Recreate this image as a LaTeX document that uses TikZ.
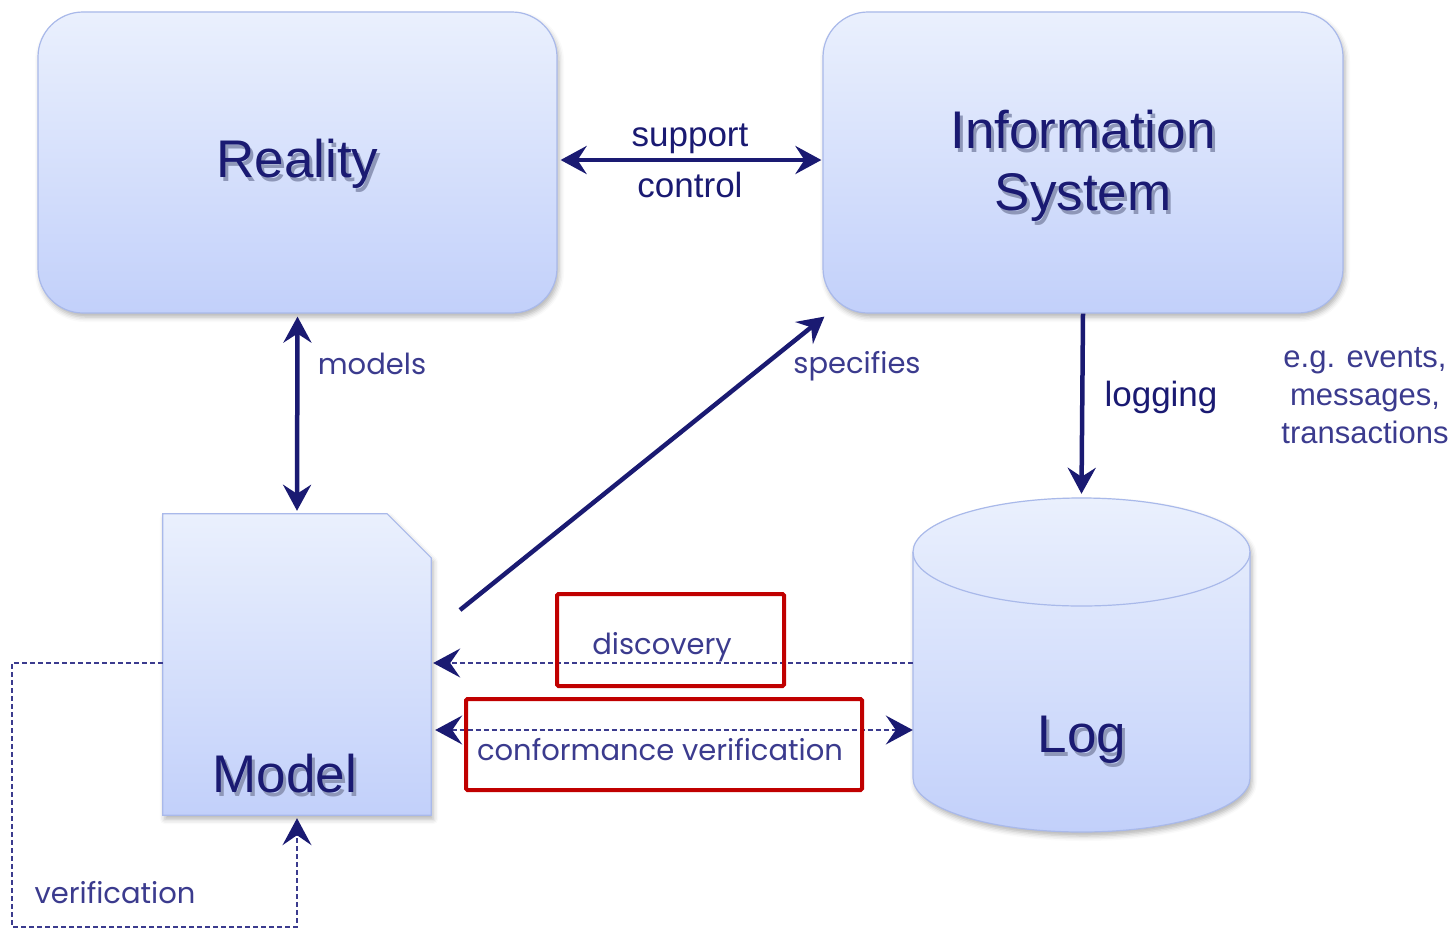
\documentclass[tikz,border=0pt]{standalone}
\usepackage{fontspec}
\newfontfamily\arialfont{Liberation Sans}
\newfontfamily\geofont{Poppins}
\usetikzlibrary{arrows.meta,shadows.blur,calc}
\definecolor{navy}{HTML}{1A1A72}
\definecolor{labelblue}{HTML}{3B3B8E}
\definecolor{boxtop}{HTML}{EAF0FD}
\definecolor{boxbot}{HTML}{C2D0FA}
\definecolor{boxline}{HTML}{A9B9EA}
\definecolor{hilite}{HTML}{C00000}
\definecolor{textshade}{HTML}{8E97B8}
% a word with a soft offset shade behind it
\newcommand{\shadedword}[1]{\rlap{\kern3pt\raisebox{-4pt}{\textcolor{textshade}{#1}}}#1}
\begin{document}
\begin{tikzpicture}[x=1pt,y=-1pt,
  boxshade/.style={top color=boxtop,bottom color=boxbot,draw=boxline,line width=1.2pt},
  boxshadow/.style={blur shadow={shadow xshift=2pt,shadow yshift=-4pt,shadow blur radius=5pt,shadow opacity=30}},
  roundbox/.style={boxshade,boxshadow,rounded corners=45pt,minimum width=519pt,minimum height=301pt,inner sep=0pt},
  anchorbox/.style={draw=none,fill=none,inner sep=0pt},
  bigtitle/.style={text=navy,font=\arialfont\fontsize{53}{62}\selectfont,align=center,inner sep=0pt},
  heavyline/.style={navy,line width=4.5pt},
  bigtip/.tip={Stealth[length=26pt,width=28pt,inset=9pt]},
  smalltip/.tip={Stealth[length=27pt,width=29pt,inset=10pt,color=navy]},
  dashline/.style={labelblue,line width=1.6pt,dash pattern=on 5pt off 3pt},
  armlabel/.style={text=navy,font=\arialfont\fontsize{35}{40}\selectfont,anchor=base,inner sep=0pt},
  notelabel/.style={text=labelblue,font=\arialfont\fontsize{31}{38}\selectfont,align=center,inner sep=0pt},
  thinlabel/.style={text=labelblue,font=\geofont\fontsize{29}{34}\selectfont,anchor=base,inner sep=0pt},
  highlight/.style={draw=hilite,line width=4pt,rounded corners=1.5pt}
]
\useasboundingbox (0,0) rectangle (1456,929);

% the two upper blocks
\node[roundbox] (reality) at (297.5,162.5) {};
\node[roundbox,minimum width=520pt] (infosys) at (1083,162.5) {};

% model: a sheet with a clipped corner
\node[anchorbox,minimum width=268pt,minimum height=301pt] (model) at (297,664.5) {};
\path[boxshade,boxshadow] (model.north west) -- ($(model.north east)+(-44,0)$)
  -- ($(model.north east)+(0,44)$) -- (model.south east) -- (model.south west) -- cycle;

% log: a cylinder
\node[anchorbox,minimum width=337pt,minimum height=334pt] (log) at (1081.5,665) {};
\path[boxshade,boxshadow] (913,552) arc[start angle=180,end angle=0,x radius=168.5pt,y radius=54pt]
  -- (1250,778) arc[start angle=0,end angle=-180,x radius=168.5pt,y radius=54pt] -- cycle;
\draw[boxline,line width=1.2pt] (913,552) arc[start angle=180,end angle=360,x radius=168.5pt,y radius=54pt];

% titles
\node[bigtitle] (realityT) at (297.5,166) {\shadedword{Reality}};
\node[bigtitle] (infosysT) at (1083,168) {\shadedword{Information}\\\shadedword{System}};
\node[bigtitle,anchor=base] (modelT) at (285,792) {\shadedword{Model}};
\node[bigtitle,anchor=base] (logT) at (1082,752) {\shadedword{Log}};

% solid connectors
\draw[heavyline,bigtip-bigtip] ([xshift=3pt,yshift=2.5pt]reality.east) -- ([xshift=-1pt,yshift=2.5pt]infosys.west);
\draw[heavyline,bigtip-bigtip] ([yshift=-3pt]reality.south) -- ([yshift=3pt]model.north);
\coordinate (specstart) at (460,610);
\draw[heavyline,-bigtip] (specstart) -- ($(infosys.south west)+(2,3)$);
\draw[heavyline,-bigtip] (infosys.south) -- ($(log.north)+(0,-4)$);

% dashed connectors
\draw[dashline,-smalltip] ([yshift=2pt]log.west) -- ([xshift=2pt,yshift=1.5pt]model.east);
\draw[dashline,smalltip-smalltip] ([xshift=4pt,yshift=-65.5pt]model.east) -- ([yshift=-65pt]log.west);
\draw[dashline,-smalltip] ([yshift=1.5pt]model.west) -| (12,927) -| ([yshift=-3pt]model.south);

% connector labels
\node[armlabel] (lsupport) at (690,146) {support};
\node[armlabel] (lcontrol) at (690,197) {control};
\node[armlabel] (llogging) at (1161,406) {logging};
\node[notelabel] (lnote) at (1365,396) {e.g. events,\\messages,\\transactions};
\node[thinlabel] (lmodels) at (372,374) {models};
\node[thinlabel] (lspec) at (857,373) {specifies};
\node[thinlabel] (ldisc) at (662,654) {discovery};
\node[thinlabel] (lconf) at (660,760) {conformance verification};
\node[thinlabel] (lverif) at (115,903) {verification};

% highlight frames
\draw[highlight] (557,594) rectangle (784,686);
\draw[highlight] (466,699) rectangle (862,790);
\end{tikzpicture}
\end{document}
